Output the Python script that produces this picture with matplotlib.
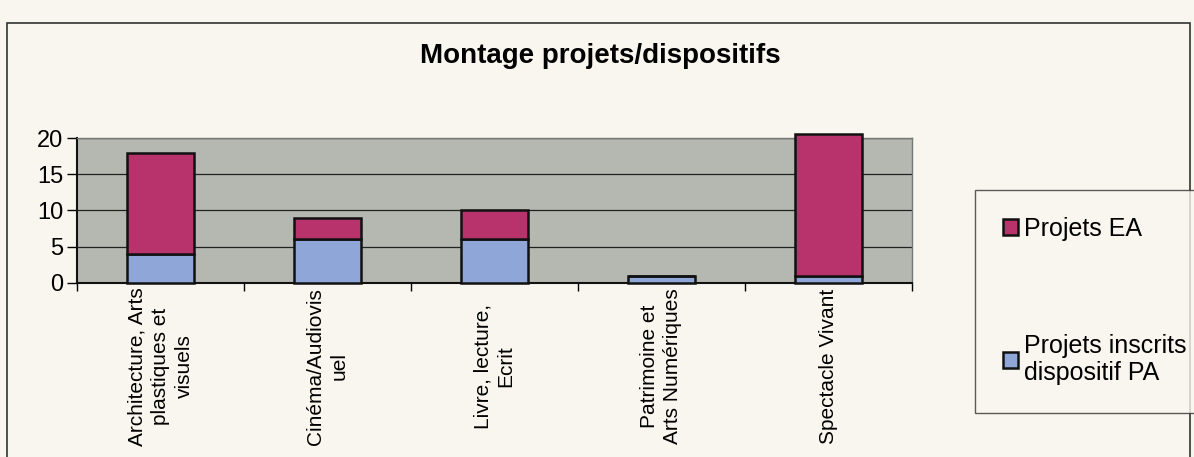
import matplotlib.pyplot as plt
import numpy as np
from matplotlib.patches import Rectangle

categories = ["Architecture, Arts\nplastiques et\nvisuels",
              "Cinéma/Audiovis\nuel",
              "Livre, lecture,\nEcrit",
              "Patrimoine et\nArts Numériques",
              "Spectacle Vivant"]
projets_pa = [4, 6, 6, 1, 1]
projets_ea = [14, 3, 4, 0, 19.5]
series_labels = ["Projets EA", "Projets inscrits\ndispositif PA"]
yticks = [0, 5, 10, 15, 20]

plt.rcParams['font.family'] = ['Liberation Sans', 'DejaVu Sans']

fig = plt.figure(figsize=(11.94, 4.57), dpi=100)
fig.patch.set_facecolor('#f8f6ee')

# outer chart frame
fig.patches.append(Rectangle((0.006, -0.05), 0.991, 1.0, transform=fig.transFigure,
                             fill=False, edgecolor='#333333', linewidth=1.2))

ax = fig.add_axes([0.0645, 0.381, 0.699, 0.317])
ax.set_facecolor('#b5b8b0')

x = np.arange(len(categories))
bar_pa = ax.bar(x, projets_pa, width=0.4, color='#8fa6d9', edgecolor='#111111',
                linewidth=1.8, clip_on=False, zorder=3)
bar_ea = ax.bar(x, projets_ea, width=0.4, bottom=projets_pa, color='#b8336b',
                edgecolor='#111111', linewidth=1.8, clip_on=False, zorder=3)

ax.set_xlim(-0.5, len(categories) - 0.5)
ax.set_ylim(0, 20)
ax.set_yticks(yticks)
ax.set_yticklabels([str(v) for v in yticks], fontsize=17)
ax.yaxis.grid(True, color='#222222', linewidth=0.9)
ax.set_axisbelow(True)

# category ticks at boundaries, labels centred in the space below the axis
ax.set_xticks(np.arange(len(categories) + 1) - 0.5)
ax.set_xticklabels([])
ax.set_xticks(x, minor=True)
ax.set_xticklabels(categories, minor=True, rotation=90, fontsize=15,
                   ha='center', va='center', multialignment='center', linespacing=1.3)
ax.tick_params(axis='x', which='minor', length=0, pad=60)
ax.tick_params(axis='x', which='major', length=6, width=1, direction='out')
ax.tick_params(axis='y', length=7, width=1, direction='out', pad=3)

for side in ['left', 'bottom']:
    ax.spines[side].set_color('#111111')
    ax.spines[side].set_linewidth(1.5)
for side in ['top', 'right']:
    ax.spines[side].set_color('#777777')
    ax.spines[side].set_linewidth(1.0)

fig.text(0.503, 0.878, "Montage projets/dispositifs", ha='center', va='center',
         fontsize=20, fontweight='bold')

leg = fig.legend([bar_ea, bar_pa], series_labels, loc='upper left',
                 bbox_to_anchor=(0.817, 0.585), fontsize=18, frameon=True,
                 fancybox=False, edgecolor='#333333', facecolor='#f8f6ee',
                 handlelength=0.6, handleheight=0.6, handletextpad=0.25,
                 labelspacing=3.7, borderpad=1.1, borderaxespad=0)
leg.get_frame().set_linewidth(1.0)

fig.savefig("out.png", dpi=100, facecolor=fig.get_facecolor())
